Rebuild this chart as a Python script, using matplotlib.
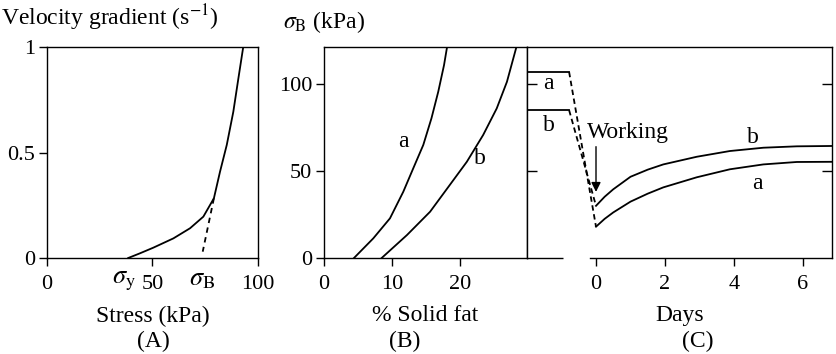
import numpy as np
import matplotlib
matplotlib.use('Agg')
import matplotlib.pyplot as plt

plt.rcParams['font.family'] = ['Liberation Serif', 'DejaVu Serif']
plt.rcParams['mathtext.fontset'] = 'stix'

# (A) flow curve
stress = [38.5, 44.0, 50.4, 59.9, 67.8, 74.1, 79.1, 82.0, 85.2, 88.3, 90.7, 93.0]
grad = [0.0, 0.022, 0.049, 0.093, 0.141, 0.196, 0.283, 0.409, 0.536, 0.693, 0.851, 1.0]
stress_ext = [79.1, 73.8]
grad_ext = [0.283, 0.03]

# (B) sigma_B vs % solid fat
fat_a = [4.41, 7.25, 9.7, 11.66, 13.13, 14.6, 15.8, 16.8, 17.65, 18.1]
sb_a = [0, 11.3, 22.8, 38.1, 51.6, 65, 80.3, 95.6, 110.9, 121.4]
fat_b = [8.48, 12.2, 15.6, 18.5, 21.0, 23.4, 25.4, 26.9, 28.3]
sb_b = [0, 13.2, 26.6, 42, 55.3, 70.7, 86, 101.3, 121.4]

# (C) sigma_B vs days (before / after working)
days_before = [-2.0, -0.78]
before_a = [107, 107]
before_b = [85, 85]
drop_days = [-0.78, 0.0]
drop_a = [107, 18]
drop_b = [85, 30]
days = [0.0, 0.25, 0.5, 1.0, 1.5, 1.95, 2.92, 3.88, 4.85, 5.82, 6.84]
after_a = [18, 22.5, 26.2, 32.4, 37.0, 40.6, 46.4, 51.0, 53.8, 55.2, 55.3]
after_b = [30, 35.2, 39.5, 46.7, 50.8, 53.8, 58.2, 61.5, 63.4, 64.2, 64.4]

W, H = 837, 354
fig = plt.figure(figsize=(W / 100, H / 100), dpi=100)


def box(l, r, t, b):
    return [l / W, 1 - b / H, (r - l) / W, (b - t) / H]


fs = 17
lw = 1.3
axA = fig.add_axes(box(47, 258, 47, 258))
axB = fig.add_axes(box(324, 527, 47, 258))
axC = fig.add_axes(box(527, 832, 47, 258))

for ax in (axA, axB, axC):
    for s in ax.spines.values():
        s.set_linewidth(1.0)
    ax.tick_params(length=5.5, width=1.0, labelsize=16, pad=3)
    ax.tick_params(axis='x', pad=7)

# A
axA.plot(stress, grad, color='black', lw=lw)
axA.plot(stress_ext, grad_ext, color='black', lw=lw, ls=(0, (3, 2.5)))
axA.set_xlim(0, 100)
axA.set_ylim(0, 1)
axA.set_xticks([0, 50, 100])
axA.set_yticks([0, 0.5, 1])
axA.set_yticklabels(['0', '0.5', '1'])
axA.text(36.5, -0.055, r'$\sigma_{\mathrm{y}}$', ha='center', va='top', fontsize=19)
axA.text(73.3, -0.05, r'$\sigma_{\mathrm{B}}$', ha='center', va='top', fontsize=19)
axA.set_xlabel('Stress (kPa)', fontsize=fs, labelpad=8)
fig.text(1 / W, 1 - 18 / H, r'Velocity gradient (s$^{-1}$)', fontsize=fs, va='center', ha='left')
fig.text(153 / W, 1 - 341 / H, '(A)', fontsize=fs, ha='center', va='center')

# B
axB.plot(fat_a, sb_a, color='black', lw=lw)
axB.plot(fat_b, sb_b, color='black', lw=lw)
axB.set_xlim(0, 29.85)
axB.set_ylim(0, 121.3)
axB.set_xticks([0, 10, 20])
axB.set_yticks([0, 50, 100])
axB.text(11.7, 66.8, 'a', ha='center', va='center', fontsize=fs)
axB.text(22.9, 57.3, 'b', ha='center', va='center', fontsize=fs)
axB.set_xlabel('% Solid fat', fontsize=fs, labelpad=8)
fig.text(283 / W, 1 - 22 / H, r'$\sigma_{\mathrm{B}}$ (kPa)', fontsize=fs, va='center', ha='left')
fig.text(405 / W, 1 - 341 / H, '(B)', fontsize=fs, ha='center', va='center')

# C
axC.plot(days_before, before_a, color='black', lw=lw)
axC.plot(days_before, before_b, color='black', lw=lw)
axC.plot(drop_days, drop_a, color='black', lw=lw, ls=(0, (3, 2)))
axC.plot(drop_days, drop_b, color='black', lw=lw, ls=(0, (3, 2)))
axC.plot(days, after_a, color='black', lw=lw)
axC.plot(days, after_b, color='black', lw=lw)
axC.set_xlim(-2.0, 6.84)
axC.set_ylim(0, 121.3)
axC.set_xticks([0, 2, 4, 6])
axC.set_yticks([50, 100])
axC.tick_params(axis='y', which='both', direction='in', left=True, right=True,
                labelleft=False, labelright=False, length=7)
axC.spines['bottom'].set_bounds(-0.17, 6.84)
axC.plot([-2.0, -0.96], [0, 0], color='black', lw=1.0, clip_on=False, solid_capstyle='butt')
axC.text(-1.39, 100.6, 'a', ha='center', va='center', fontsize=fs)
axC.text(-1.36, 75.9, 'b', ha='center', va='center', fontsize=fs)
axC.text(4.55, 69.5, 'b', ha='center', va='center', fontsize=fs)
axC.text(4.67, 43.0, 'a', ha='center', va='center', fontsize=fs)
axC.text(-0.25, 72.4, 'Working', ha='left', va='center', fontsize=fs)
axC.annotate('', xy=(0.0, 38), xytext=(0.0, 64),
             arrowprops=dict(arrowstyle='-|>', color='black', lw=1.0, mutation_scale=14,
                             shrinkA=0, shrinkB=0))
axC.set_xlabel('Days', fontsize=fs, labelpad=8)
fig.text(698 / W, 1 - 341 / H, '(C)', fontsize=fs, ha='center', va='center')

fig.savefig('out.png', dpi=100)
